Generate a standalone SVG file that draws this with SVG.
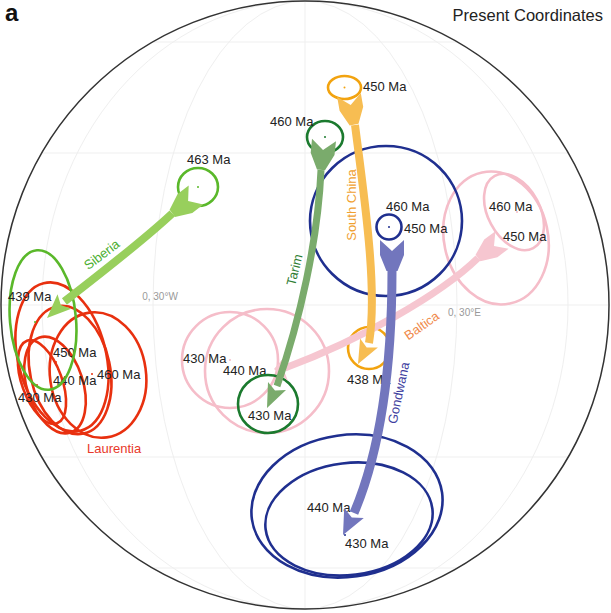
<svg xmlns="http://www.w3.org/2000/svg" width="611" height="613" viewBox="0 0 611 613">
<style>
text{font-family:"Liberation Sans",Arial,sans-serif}
.age{font-size:13px;fill:#222}
.grid{fill:none;stroke:#efefef;stroke-width:1}
.el{fill:none;stroke-width:2.6}
.lau{stroke:#e8300f}
.sib{stroke:#5ab82a}
.tar{stroke:#1b7a2e}
.sc{stroke:#f2a30f}
.gon{stroke:#1f2f8f}
.bal{stroke:#f5bdc9}
.band{fill:none;stroke-linecap:butt}
.lbl{font-size:13px}
</style>
<rect x="0" y="0" width="611" height="613" fill="#fff"/>
<g id="graticule">
<line class="grid" x1="1" y1="305" x2="609" y2="305"/>
<line class="grid" x1="42" y1="153" x2="568" y2="153"/>
<line class="grid" x1="42" y1="457" x2="568" y2="457"/>
<line class="grid" x1="153" y1="42" x2="457" y2="42"/>
<line class="grid" x1="153" y1="568" x2="457" y2="568"/>
<line class="grid" x1="305" y1="1" x2="305" y2="609"/>
<path class="grid" d="M305 1 A152 304 0 0 1 305 609"/>
<path class="grid" d="M305 1 A152 304 0 0 0 305 609"/>
<path class="grid" d="M305 1 A263 304 0 0 1 305 609"/>
<path class="grid" d="M305 1 A263 304 0 0 0 305 609"/>
<circle cx="305" cy="305" r="304" fill="none" stroke="#333" stroke-width="1.5"/>
<text x="160" y="300" font-size="10" fill="#999" text-anchor="middle">0, 30°W</text>
<text x="448" y="316" font-size="10" fill="#999">0, 30°E</text>
</g>
<text x="5" y="21" font-size="24" font-weight="bold" fill="#111">a</text>
<text x="603" y="21" font-size="16.5" fill="#222" text-anchor="end">Present Coordinates</text>

<g id="baltica">
<ellipse class="el bal" cx="496" cy="238" rx="52" ry="67" transform="rotate(-12 496 238)"/>
<ellipse class="el bal" cx="514" cy="212" rx="26" ry="41" transform="rotate(-28 514 212)"/>
<ellipse class="el bal" cx="230" cy="360" rx="48" ry="48"/>
<ellipse class="el bal" cx="267" cy="371" rx="62" ry="62"/>
<circle cx="517" cy="212" r="1" fill="#f5bdc9"/>
<circle cx="230" cy="360" r="1" fill="#f5bdc9"/>
<text class="age" x="489" y="211">460 Ma</text>
<text class="age" x="503" y="241">450 Ma</text>
<text class="age" x="183" y="363">430 Ma</text>
<text class="age" x="223" y="375">440 Ma</text>
</g>

<g id="laurentia">
<ellipse class="el lau" cx="62" cy="357" rx="44" ry="76" transform="rotate(-14 62 357)"/>
<ellipse class="el lau" cx="70" cy="370" rx="40" ry="65" transform="rotate(-12 70 370)"/>
<ellipse class="el lau" cx="98" cy="375" rx="48" ry="63" transform="rotate(-8 98 375)"/>
<ellipse class="el lau" cx="55" cy="385" rx="28" ry="50" transform="rotate(-18 55 385)"/>
<ellipse class="el lau" cx="42" cy="382" rx="20" ry="44" transform="rotate(-20 42 382)"/>
<circle cx="56" cy="362" r="1" fill="#e8300f"/>
<circle cx="58" cy="369" r="1" fill="#e8300f"/>
<circle cx="92" cy="374" r="1" fill="#e8300f"/>
<circle cx="37" cy="385" r="1" fill="#e8300f"/>
<text class="age" x="53" y="357">450 Ma</text>
<text class="age" x="53" y="385">440 Ma</text>
<text class="age" x="97" y="379">460 Ma</text>
<text class="age" x="18" y="402">430 Ma</text>
<text class="lbl" x="87" y="453" fill="#e8392a">Laurentia</text>
</g>

<g id="siberia">
<ellipse class="el sib" cx="43" cy="320" rx="33" ry="70" transform="rotate(-5 43 320)"/>
<ellipse class="el sib" cx="198" cy="187" rx="20" ry="19"/>
<circle cx="35" cy="322" r="1" fill="#5ab82a"/>
<circle cx="198" cy="187" r="1" fill="#5ab82a"/>
<text class="age" x="8" y="301">439 Ma</text>
<text class="age" x="187" y="164">463 Ma</text>
</g>

<g id="tarim">
<ellipse class="el tar" cx="325" cy="137" rx="18" ry="16"/>
<ellipse class="el tar" cx="268" cy="404" rx="30" ry="29"/>
<circle cx="325" cy="137" r="1" fill="#1b7a2e"/>
<text class="age" x="270" y="126">460 Ma</text>
<text class="age" x="248" y="420">430 Ma</text>
</g>

<g id="southchina">
<ellipse class="el sc" cx="344.5" cy="87.5" rx="16.5" ry="11.5"/>
<ellipse class="el sc" cx="369" cy="348" rx="21" ry="21"/>
<circle cx="344.5" cy="87.5" r="1" fill="#f2a30f"/>
<text class="age" x="363" y="91">450 Ma</text>
<text class="age" x="347" y="384">438 Ma</text>
</g>

<g id="gondwana">
<ellipse class="el gon" cx="386" cy="221" rx="76" ry="75"/>
<ellipse class="el gon" cx="389" cy="227" rx="12.5" ry="12.5"/>
<ellipse class="el gon" cx="347" cy="506" rx="96" ry="71" transform="rotate(-8 347 506)"/>
<ellipse class="el gon" cx="349" cy="519" rx="84" ry="56" transform="rotate(-7 349 519)"/>
<circle cx="389" cy="227" r="1" fill="#1f2f8f"/>
<circle cx="345" cy="535" r="1" fill="#1f2f8f"/>
<text class="age" x="386" y="211">460 Ma</text>
<text class="age" x="404" y="233">450 Ma</text>
<text class="age" x="307" y="512">440 Ma</text>
<text class="age" x="345" y="548">430 Ma</text>
</g>

<g id="connectors">
<g id="arrow-baltica" fill="#f6c6d0">
<path class="band" d="M478 258 C440 295 360 340 285 368" stroke="#f6c6d0" stroke-width="7"/>
<polygon points="495.4,231.2 494,246 508.6,248.8 497.4,257.2 480.4,261.2 475.6,254.8 484.2,239.6"/>
<polygon points="274,369 288,381 283,368 286,355"/>
</g>
<g id="arrow-siberia" fill="#98cf5c">
<path class="band" d="M172.3 213.3 C148 236 100 274 64.4 301.5" stroke="#98cf5c" stroke-width="8"/>
<polygon points="188.7,185.5 188.1,201.1 203.3,204.5 192.3,213 175,216.9 169.6,209.7 177.6,194.1"/>
<polygon points="47,318 71.3,308.8 60.8,304.9 57.5,294.2"/>
</g>
<g id="arrow-tarim" fill="#7aab6c">
<path class="band" d="M321 170 C318 240 300 320 277 386" stroke="#7aab6c" stroke-width="7"/>
<polygon points="312,138.8 323,150 336,141.2 334.5,155.1 325,170.3 317,169.5 310.7,152.7"/>
<polygon points="267,408 286,390 275,390.5 268,382"/>
</g>
<g id="arrow-southchina" fill="#f7bd52">
<path class="band" d="M355 125 C364 195 378 290 369 343" stroke="#f7bd52" stroke-width="8"/>
<polygon points="337.2,97 350.7,104.9 360.8,93 363.2,106.8 358.5,123.8 349.7,125.4 339.6,110.8"/>
<polygon points="358,364 377.9,347.6 366.7,347.4 360.1,338.4"/>
</g>
<g id="arrow-gondwana" fill="#7276bd">
<path class="band" d="M392 270 C392 350 385 440 354 513" stroke="#7276bd" stroke-width="9"/>
<polygon points="380,240 392,251 404,240 404,255 397.5,271 386.5,271 380,255"/>
<polygon points="343,535 363.8,517.9 351.8,517.5 344.2,508.1"/>
</g>
</g>

<g id="labels">
<text class="lbl" fill="#4caf32" text-anchor="middle" transform="translate(102 255) rotate(-37)" dy="4">Siberia</text>
<text class="lbl" fill="#2e7d32" text-anchor="middle" transform="translate(295 270) rotate(-76)" dy="4">Tarim</text>
<text class="lbl" fill="#f0a030" text-anchor="middle" transform="translate(352 205) rotate(-90)" dy="4">South China</text>
<text class="lbl" fill="#3f3fa0" text-anchor="middle" transform="translate(399 393) rotate(-78)" dy="4">Gondwana</text>
<text class="lbl" fill="#f08a4b" text-anchor="middle" transform="translate(422 326) rotate(-35)" dy="4">Baltica</text>
</g>
</svg>
